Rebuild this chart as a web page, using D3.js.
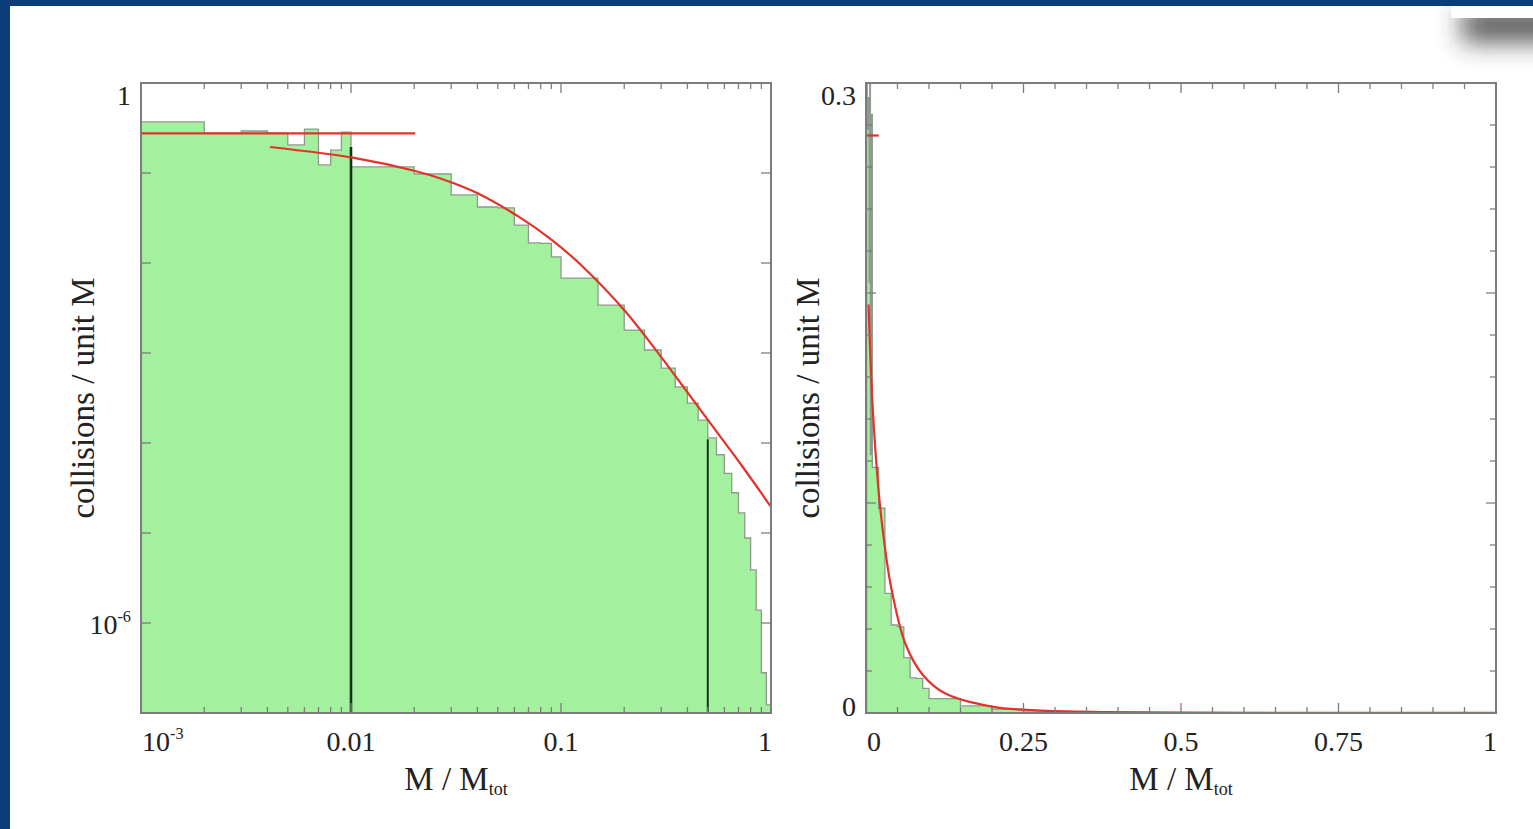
<!DOCTYPE html>
<html>
<head>
<meta charset="utf-8">
<script src="https://cdn.jsdelivr.net/npm/d3@7"></script>
<style>
  html, body { margin: 0; padding: 0; background: #0d3c7c; }
  svg { display: block; }
</style>
</head>
<body>
<svg id="fig" width="1533" height="829"></svg>
<script>
// ---- data ---------------------------------------------------------------
// histogram bin edges in M / Mtot (0.001 wide, then 0.01, then 0.05)
const binEdges = [0.001, 0.002, 0.003, 0.004, 0.005, 0.006, 0.007, 0.008, 0.009,
                  0.01, 0.02, 0.03, 0.04, 0.05, 0.06, 0.07, 0.08, 0.09,
                  0.1, 0.15, 0.2, 0.25, 0.3, 0.35, 0.4, 0.45, 0.5, 0.55, 0.6,
                  0.65, 0.7, 0.75, 0.8, 0.85, 0.9, 0.95, 1.0];
// collisions per unit M in each bin
const binRates = [0.369, 0.278, 0.293, 0.278, 0.205, 0.308, 0.123, 0.180, 0.285,
                  0.117, 0.0975, 0.057, 0.0419, 0.041, 0.0264, 0.0167, 0.0165, 0.0117,
                  0.0068, 0.0034, 0.0018, 0.00108, 0.00068, 0.00042, 0.000278, 0.00018,
                  0.000114, 7.4e-5, 4.6e-5, 2.8e-5, 1.67e-5, 8.8e-6, 3.9e-6, 1.39e-6,
                  2.8e-7, 1.23e-7];
// flat fit at small masses
const flatFitM = [0.001, 0.0202];
const flatFitRate = [0.275, 0.275];
// curved fit over the rest of the range
const fitM    = [0.00411, 0.01033, 0.0202, 0.0271, 0.0398, 0.0631, 0.0906, 0.126,
                 0.2017, 0.271, 0.377, 0.5126, 0.728, 1.0];
const fitRate = [0.1945, 0.147, 0.1052, 0.0858, 0.060, 0.0325, 0.0180, 0.00926,
                 0.00293, 0.00123, 0.000441, 0.000167, 5.55e-5, 1.95e-5];
// vertical markers (log panel)
const markerM   = [0.01, 0.5];
const markerTop = [0.195, 0.00011];
// tick labels
const leftXLabelVals  = [0.001, 0.01, 0.1, 1];
const leftXLabelText  = [["10", "-3"], ["0.01"], ["0.1"], ["1"]];
const leftYLabelVals  = [1, 1e-6];
const leftYLabelText  = [["1"], ["10", "-6"]];
const rightXLabelVals = [0, 0.25, 0.5, 0.75, 1];
const rightXLabelText = [["0"], ["0.25"], ["0.5"], ["0.75"], ["1"]];
const rightYLabelVals = [0.3, 0];
const rightYLabelText = [["0.3"], ["0"]];
const xTitle = ["M / M", "tot"];
const yTitle = "collisions / unit M";

// ---- page ---------------------------------------------------------------
const W = 1533, H = 829;
const svg = d3.select("#fig");
const defs = svg.append("defs");

defs.append("clipPath").attr("id", "slide")
  .append("rect").attr("x", 10).attr("y", 6).attr("width", W - 10).attr("height", H - 6);
defs.append("filter").attr("id", "soft")
  .attr("x", "-50%").attr("y", "-100%").attr("width", "200%").attr("height", "300%")
  .append("feGaussianBlur").attr("stdDeviation", 13);

svg.append("rect").attr("width", W).attr("height", H).attr("fill", "#0d3c7c");
svg.append("rect").attr("x", 10).attr("y", 6).attr("width", W - 10).attr("height", H - 6)
  .attr("fill", "#ffffff");

// small floating card with a drop shadow in the top-right corner
const card = svg.append("g").attr("clip-path", "url(#slide)");
card.append("rect").attr("x", 1462).attr("y", 8).attr("width", 110).attr("height", 34)
  .attr("fill", "#2e2e2e").attr("opacity", 0.8).attr("filter", "url(#soft)");
card.append("rect").attr("x", 1451).attr("y", 6).attr("width", 90).attr("height", 12)
  .attr("fill", "#ffffff");

const FONT = "'Liberation Serif', 'Times New Roman', serif";
const INK = "#222";
const FRAME = "#7c7c7c";
const GREEN = "#a3f09e";
const OUTLINE = "#8f9a8f";
const RED = "#e2322b";

const bins = binRates.map((r, i) => ({ lo: binEdges[i], hi: binEdges[i + 1], r }));

function addLabel(g, x, y, parts, anchor, size) {
  const t = g.append("text").attr("x", x).attr("y", y)
    .attr("text-anchor", anchor).attr("font-family", FONT)
    .attr("font-size", size).attr("fill", INK);
  t.append("tspan").text(parts[0]);
  if (parts[1]) {
    t.append("tspan").attr("dy", -12).attr("font-size", size * 0.58).text(parts[1]);
  }
  return t;
}

function drawPanel(opt) {
  const { x, y, id } = opt;
  const [x0, x1] = x.range();
  const [yb, yt] = y.range();
  const g = svg.append("g");

  g.append("clipPath").attr("id", id)
    .append("rect").attr("x", x0).attr("y", yt).attr("width", x1 - x0).attr("height", yb - yt);
  const plot = g.append("g").attr("clip-path", `url(#${id})`);

  // histogram as a stepped outline
  const pts = [[x(bins[0].lo), yb]];
  bins.forEach(b => { pts.push([x(b.lo), y(b.r)]); pts.push([x(b.hi), y(b.r)]); });
  pts.push([x(bins[bins.length - 1].hi), yb]);
  const line = d3.line();
  plot.append("path").attr("d", line(pts) + "Z").attr("fill", GREEN).attr("stroke", "none");
  plot.append("path").attr("d", line(pts)).attr("fill", "none")
    .attr("stroke", OUTLINE).attr("stroke-width", 1.3);

  // vertical markers
  if (opt.markers) {
    markerM.forEach((m, i) => {
      plot.append("line")
        .attr("x1", x(m)).attr("x2", x(m))
        .attr("y1", y(markerTop[i])).attr("y2", yb)
        .attr("stroke", "#15331a").attr("stroke-width", i === 0 ? 2.6 : 2);
    });
  }

  // fits
  plot.append("path")
    .attr("d", d3.line()(flatFitM.map((m, i) => [x(m), y(flatFitRate[i])])))
    .attr("fill", "none").attr("stroke", RED).attr("stroke-width", 2.2);
  plot.append("path")
    .attr("d", d3.line().curve(d3.curveCatmullRom.alpha(0.5))(fitM.map((m, i) => [x(m), y(fitRate[i])])))
    .attr("fill", "none").attr("stroke", RED).attr("stroke-width", 2.2);

  // inward ticks on all four sides
  const tg = g.append("g").attr("stroke", FRAME).attr("stroke-width", 1.3);
  opt.xTicks.forEach(t => {
    const len = opt.xMajor(t) ? 10 : 6;
    tg.append("line").attr("x1", x(t)).attr("x2", x(t)).attr("y1", yb).attr("y2", yb - len);
    tg.append("line").attr("x1", x(t)).attr("x2", x(t)).attr("y1", yt).attr("y2", yt + len);
  });
  opt.yTicks.forEach(t => {
    const len = opt.yMajor(t) ? 10 : 6;
    tg.append("line").attr("x1", x0).attr("x2", x0 + len).attr("y1", y(t)).attr("y2", y(t));
    tg.append("line").attr("x1", x1).attr("x2", x1 - len).attr("y1", y(t)).attr("y2", y(t));
  });

  // frame
  g.append("rect").attr("x", x0).attr("y", yt).attr("width", x1 - x0).attr("height", yb - yt)
    .attr("fill", "none").attr("stroke", FRAME).attr("stroke-width", 2);

  // tick labels
  const lg = g.append("g");
  opt.xLabelVals.forEach((v, i) => {
    const last = i === opt.xLabelVals.length - 1;
    const anchor = i === 0 ? "start" : last ? "end" : "middle";
    const px = i === 0 ? x(v) + 1 : last ? x(v) + 1 : x(v);
    addLabel(lg, px, 751, opt.xLabelText[i], anchor, 28);
  });
  opt.yLabelVals.forEach((v, i) => {
    const py = y(v);
    let base;
    if (Math.abs(py - yt) < 1) base = py + 22;
    else if (Math.abs(py - yb) < 1) base = py + 3;
    else base = py + 11;
    addLabel(lg, x0 - 10, base, opt.yLabelText[i], "end", 28);
  });

  // axis titles
  const cx = (x0 + x1) / 2;
  const xt = g.append("text").attr("x", cx).attr("y", 790)
    .attr("text-anchor", "middle").attr("font-family", FONT)
    .attr("font-size", 33).attr("fill", INK);
  xt.append("tspan").text(xTitle[0]);
  xt.append("tspan").attr("dy", 5).attr("font-size", 18).text(xTitle[1]);

  g.append("text")
    .attr("transform", `translate(${opt.yTitleX},${(yt + yb) / 2}) rotate(-90)`)
    .attr("text-anchor", "middle").attr("font-family", FONT)
    .attr("font-size", 33).attr("fill", INK).text(yTitle);
}

// ---- left panel: log-log ------------------------------------------------
const xL = d3.scaleLog().domain([1e-3, 1]).range([141, 771]);
const yL = d3.scaleLog().domain([1e-7, 1]).range([713, 83]);
const isDecade = v => Math.abs(Math.log10(v) - Math.round(Math.log10(v))) < 1e-6;
drawPanel({
  id: "clipL", x: xL, y: yL, markers: true,
  xTicks: xL.ticks(), xMajor: isDecade,
  yTicks: d3.range(-7, 1).map(e => Math.pow(10, e)), yMajor: () => true,
  xLabelVals: leftXLabelVals, xLabelText: leftXLabelText,
  yLabelVals: leftYLabelVals, yLabelText: leftYLabelText,
  yTitleX: 94
});

// ---- right panel: linear ------------------------------------------------
const xR = d3.scaleLinear().domain([0, 1]).range([866, 1496]);
const yR = d3.scaleLinear().domain([0, 0.3]).range([713, 83]);
const near = (v, step) => Math.abs(v / step - Math.round(v / step)) < 1e-6;
drawPanel({
  id: "clipR", x: xR, y: yR, markers: false,
  xTicks: d3.range(0, 21).map(i => i * 0.05), xMajor: v => near(v, 0.25),
  yTicks: d3.range(0, 16).map(i => i * 0.02), yMajor: v => near(v, 0.1),
  xLabelVals: rightXLabelVals, xLabelText: rightXLabelText,
  yLabelVals: rightYLabelVals, yLabelText: rightYLabelText,
  yTitleX: 819
});
</script>
</body>
</html>
